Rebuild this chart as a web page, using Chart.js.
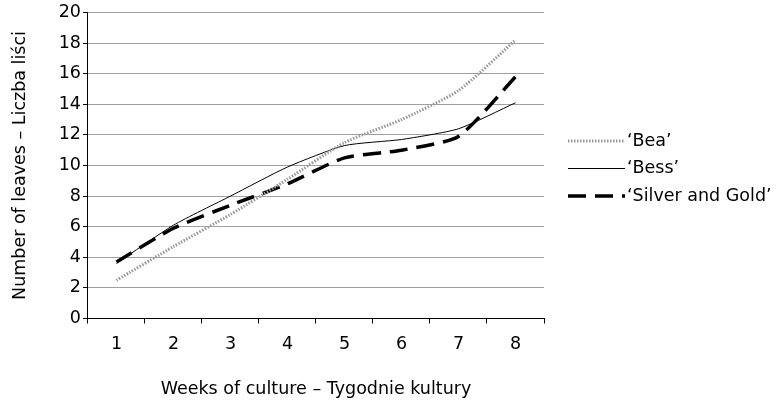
<!DOCTYPE html>
<html>
<head>
<meta charset="utf-8">
<script src="https://cdn.jsdelivr.net/npm/chart.js@4.4.1/dist/chart.umd.min.js"></script>
<style>
  html, body { margin: 0; padding: 0; background: #fff; }
  #wrap { width: 781px; height: 400px; }
</style>
</head>
<body>
<div id="wrap"><canvas id="c" width="781" height="400"></canvas></div>
<script>
const weeks = ['1', '2', '3', '4', '5', '6', '7', '8']
const bea = [2.5, 4.7, 6.8, 9.1, 11.5, 13.0, 14.9, 18.2]
const bess = [3.6, 6.1, 8.0, 9.9, 11.3, 11.7, 12.4, 14.1]
const silverGold = [3.7, 5.9, 7.4, 8.8, 10.5, 11.0, 11.9, 15.8]
const seriesNames = ['\u2018Bea\u2019', '\u2018Bess\u2019', '\u2018Silver and Gold\u2019']
const yTitle = 'Number of leaves \u2013 Liczba li\u015bci'
const xTitle = 'Weeks of culture \u2013 Tygodnie kultury'

const FONT = 'DejaVu Sans'
const FS = 17.5

// legend drawn to the right of the plot, Excel style (line key + label)
const sideLegend = {
  id: 'sideLegend',
  afterDraw (chart) {
    const { ctx, chartArea } = chart
    const midY = (chartArea.top + chartArea.bottom) / 2 + 3
    const rowGap = 27.5
    const x0 = chartArea.right + 24
    const keyLen = 57
    const n = chart.data.datasets.length
    ctx.save()
    chart.data.datasets.forEach((ds, i) => {
      const y = midY + (i - (n - 1) / 2) * rowGap
      ctx.beginPath()
      ctx.strokeStyle = ds.borderColor
      ctx.lineWidth = ds.borderWidth
      ctx.setLineDash(ds.borderDash || [])
      ctx.moveTo(x0, y)
      ctx.lineTo(x0 + keyLen, y)
      ctx.stroke()
      ctx.setLineDash([])
      ctx.fillStyle = '#000'
      ctx.font = FS + 'px "' + FONT + '"'
      ctx.textBaseline = 'middle'
      ctx.textAlign = 'left'
      ctx.fillText(ds.label, x0 + keyLen + 2, y)
    })
    ctx.restore()
  }
}

const ctx = document.getElementById('c').getContext('2d')

new Chart(ctx, {
  type: 'line',
  data: {
    labels: weeks,
    datasets: [
      {
        label: seriesNames[0],
        data: bea,
        borderColor: '#999999',
        borderWidth: 3,
        borderDash: [1.5, 1.5],
        pointRadius: 0,
        tension: 0.2
      },
      {
        label: seriesNames[1],
        data: bess,
        borderColor: '#000',
        borderWidth: 1,
        pointRadius: 0,
        tension: 0.2
      },
      {
        label: seriesNames[2],
        data: silverGold,
        borderColor: '#000',
        borderWidth: 3.5,
        borderDash: [18, 9],
        pointRadius: 0,
        tension: 0.2
      }
    ]
  },
  options: {
    responsive: false,
    animation: false,
    devicePixelRatio: 1,
    layout: {
      padding: { top: 11.5, right: 237, bottom: 0, left: 0 }
    },
    plugins: {
      tooltip: { enabled: false },
      legend: { display: false }
    },
    scales: {
      x: {
        offset: true,
        grid: {
          display: true,
          drawOnChartArea: false,
          drawTicks: true,
          tickLength: 5,
          offset: true,
          tickColor: '#000'
        },
        border: { display: true, color: '#000', width: 1 },
        ticks: {
          color: '#000',
          padding: 10.5,
          maxRotation: 0,
          font: { family: FONT, size: FS }
        },
        title: {
          display: true,
          text: xTitle,
          color: '#000',
          padding: { top: 13.5, bottom: 0 },
          font: { family: FONT, size: FS }
        }
      },
      y: {
        min: 0,
        max: 20,
        grid: {
          color: '#a0a0a0',
          drawTicks: true,
          tickLength: 5,
          tickColor: '#000'
        },
        border: { display: true, color: '#000', width: 1 },
        ticks: {
          stepSize: 2,
          color: '#000',
          padding: 2,
          font: { family: FONT, size: FS }
        },
        title: {
          display: true,
          text: yTitle,
          color: '#000',
          padding: { top: 10, bottom: 25.7 },
          font: { family: FONT, size: FS }
        }
      }
    }
  },
  plugins: [sideLegend]
})
</script>
</body>
</html>
